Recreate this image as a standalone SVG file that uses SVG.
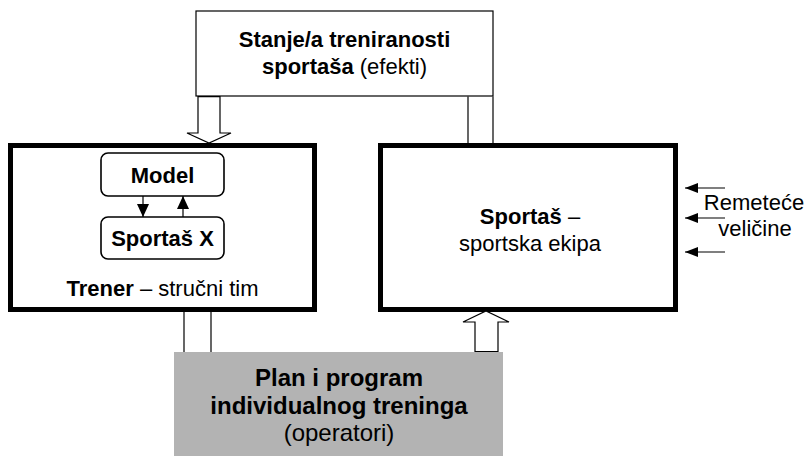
<svg xmlns="http://www.w3.org/2000/svg" width="808" height="456" viewBox="0 0 808 456">
<style>
text{font-family:"Liberation Sans",Arial,sans-serif;font-size:22px;fill:#000;text-anchor:middle}
.b{font-weight:bold}
.big{font-size:24px}
.thin{fill:#fff;stroke:#000;stroke-width:1.2}
.thick{fill:#fff;stroke:#000;stroke-width:5}
.rb{fill:#fff;stroke:#000;stroke-width:1.6}
.ln{stroke:#000;stroke-width:1.2;fill:none}
.hollow{fill:#fff;stroke:#000;stroke-width:1.2;stroke-linejoin:miter}
</style>
<defs>
<marker id="ah" markerWidth="13" markerHeight="12" refX="13" refY="6" orient="auto" markerUnits="userSpaceOnUse">
<path d="M0,0 L13,6 L0,12 Z" fill="#000"/>
</marker>
<marker id="ahs" markerWidth="13" markerHeight="10" refX="13" refY="5" orient="auto" markerUnits="userSpaceOnUse">
<path d="M0,0 L13,5 L0,10 Z" fill="#000"/>
</marker>
</defs>
<g id="stanje">
<rect class="thin" x="196" y="11" width="297" height="85"/>
<text x="344.5" y="47"><tspan class="b">Stanje/a treniranosti</tspan></text>
<text x="344.5" y="74"><tspan class="b">sportaša</tspan> (efekti)</text>
</g>
<g id="trener">
<rect class="thick" x="10.5" y="145.5" width="304" height="164"/>
<text x="162.5" y="296"><tspan class="b">Trener</tspan> – stručni tim</text>
</g>
<g id="model">
<rect class="rb" x="101" y="153" width="123" height="43" rx="7"/>
<text class="b" x="162.5" y="183">Model</text>
</g>
<g id="sportasx">
<rect class="rb" x="101" y="217" width="123" height="42" rx="7"/>
<text class="b" x="162.5" y="246">Sportaš X</text>
</g>
<g id="sportas">
<rect class="thick" x="380.5" y="145.5" width="295" height="164"/>
<text x="530" y="224"><tspan class="b">Sportaš</tspan> –</text>
<text x="530" y="251">sportska ekipa</text>
</g>
<g id="remetece">
<text x="754" y="210">Remeteće</text>
<text x="755" y="236">veličine</text>
</g>
<g id="plan">
<rect x="174" y="352" width="329" height="104" fill="#b3b3b3"/>
<text class="b big" x="339" y="386">Plan i program</text>
<text class="b big" x="339" y="414">individualnog treninga</text>
<text class="big" x="339" y="441">(operatori)</text>
</g>
<g id="connectors">
<polygon class="hollow" points="198,96.6 220,96.6 220,133 231,133 209,143 187,133 198,133"/>
<polyline class="ln" points="468,96.6 468,143"/>
<polyline class="ln" points="493,96.6 493,143"/>
<polyline class="ln" points="184,312 184,352"/>
<polyline class="ln" points="211,312 211,352"/>
<polygon class="hollow" points="475,351.5 498,351.5 498,322 509,322 486,311 463,322 475,322"/>
<line class="ln" x1="143" y1="196" x2="143" y2="217" marker-end="url(#ah)"/>
<line class="ln" x1="183" y1="217" x2="183" y2="196" marker-end="url(#ah)"/>
<line class="ln" x1="725" y1="188" x2="685" y2="188" marker-end="url(#ahs)"/>
<line class="ln" x1="725" y1="218" x2="685" y2="218" marker-end="url(#ahs)"/>
<line class="ln" x1="725" y1="252" x2="685" y2="252" marker-end="url(#ahs)"/>
</g>
</svg>
